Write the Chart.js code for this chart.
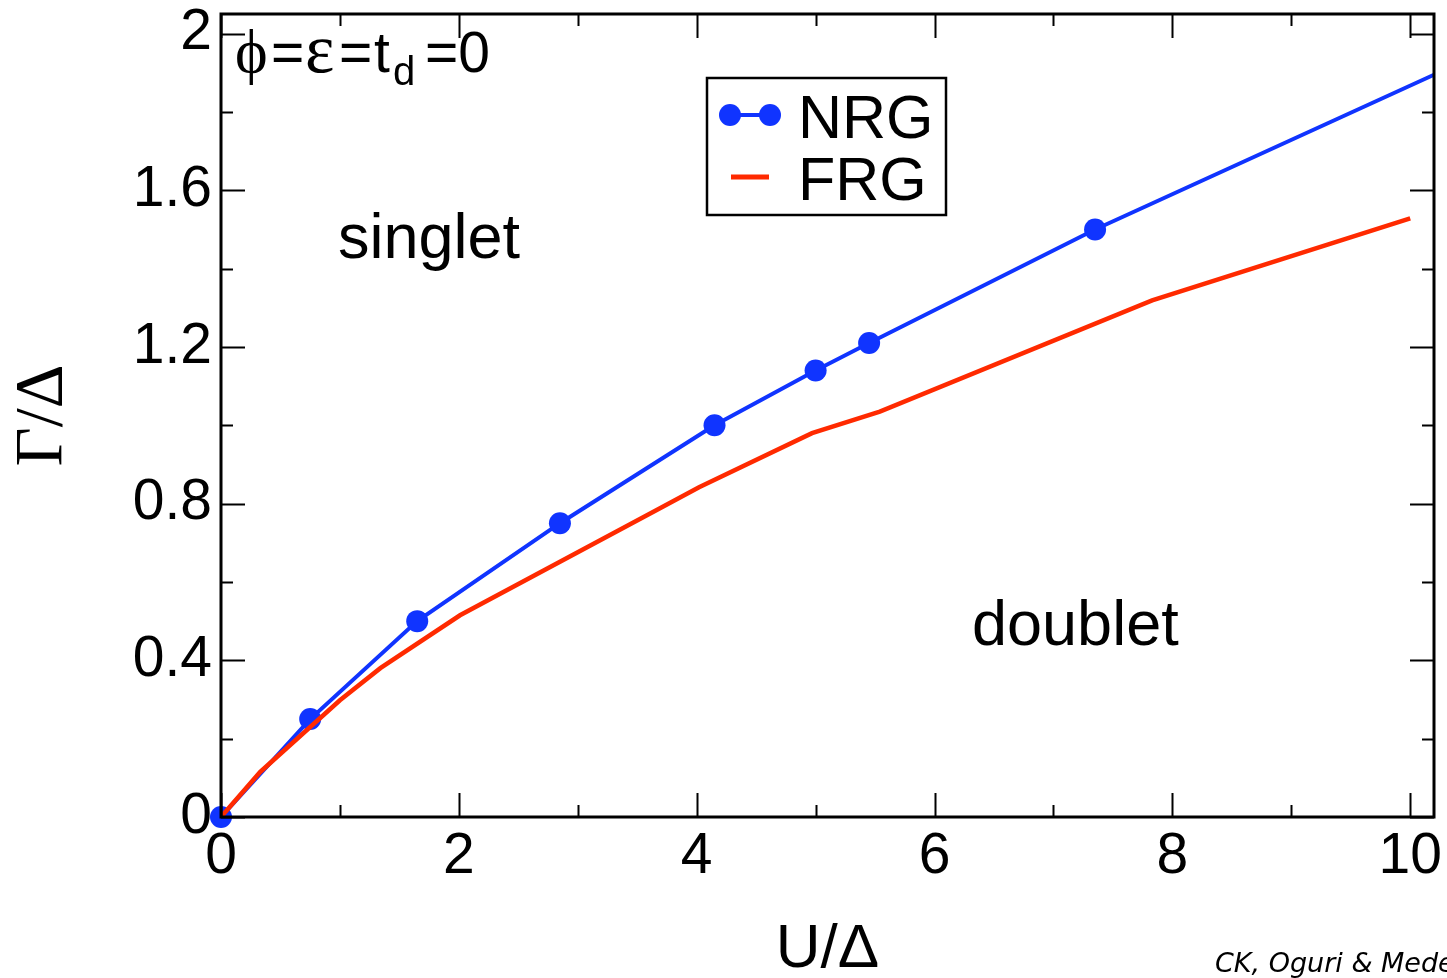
<!DOCTYPE html>
<html><head><meta charset="utf-8">
<script src="https://cdn.jsdelivr.net/npm/chart.js@4"></script>
<style>html,body{margin:0;padding:0;background:#fff;overflow:hidden}canvas{display:block}</style>
</head><body><canvas id="c" width="1447" height="978"></canvas>
<script>
// ---- data ----
const nrgU      = [0, 0.75, 1.65, 2.85, 4.15, 5.0, 5.45, 7.35, 10.2];
const nrgGamma  = [0, 0.25, 0.50, 0.75, 1.00, 1.14, 1.21, 1.50, 1.895];
const nrgMarker = [1, 1, 1, 1, 1, 1, 1, 1, 0];
const frgU      = [0, 0.33, 1.00, 1.34, 2.01, 3.66, 4.02, 4.97, 5.54, 7.83, 10.0];
const frgGamma  = [0, 0.115, 0.298, 0.38, 0.515, 0.783, 0.842, 0.98, 1.035, 1.319, 1.528];
const xMajorTicks = [0, 2, 4, 6, 8, 10];
const xMinorTicks = [1, 3, 5, 7, 9];
const yMajorTicks = [0, 0.4, 0.8, 1.2, 1.6, 2.0];
const yMinorTicks = [0.2, 0.6, 1.0, 1.4, 1.8];
const xTickLabels = ['0', '2', '4', '6', '8', '10'];
const yTickLabels = ['0', '0.4', '0.8', '1.2', '1.6', '2'];
const seriesNames = ['NRG', 'FRG'];
const regionLabels = ['singlet', 'doublet'];

const BLUE = '#1034ff', RED = '#ff2a00';
const SANS = 'Liberation Sans';
const SERIF = 'Liberation Serif';

const decor = {
  id: 'decor',
  afterDraw(chart) {
    const {ctx, chartArea: a, scales: {x, y}} = chart;
    ctx.save();
    ctx.strokeStyle = '#000';
    // ticks (inside, mirrored)
    ctx.lineWidth = 2;
    const xt = (vals, len) => vals.forEach(v => {
      const p = Math.round(x.getPixelForValue(v)) + 0.5;
      ctx.beginPath();
      ctx.moveTo(p, a.bottom); ctx.lineTo(p, a.bottom - len);
      ctx.moveTo(p, a.top); ctx.lineTo(p, a.top + len);
      ctx.stroke();
    });
    const yt = (vals, len) => vals.forEach(v => {
      const p = Math.round(y.getPixelForValue(v)) + 0.5;
      ctx.beginPath();
      ctx.moveTo(a.left, p); ctx.lineTo(a.left + len, p);
      ctx.moveTo(a.right, p); ctx.lineTo(a.right - len, p);
      ctx.stroke();
    });
    xt(xMajorTicks, 24); xt(xMinorTicks, 12);
    yt(yMajorTicks, 24); yt(yMinorTicks, 12);
    // frame
    ctx.lineWidth = 3;
    ctx.strokeRect(a.left, a.top, a.right - a.left, a.bottom - a.top);

    // annotations
    ctx.fillStyle = '#000';
    ctx.textBaseline = 'alphabetic';
    ctx.textAlign = 'left';
    ctx.font = `63px "${SANS}"`;
    ctx.fillText(regionLabels[0], 338, 258);
    ctx.fillText(regionLabels[1], 972, 645);

    // parameter label  ϕ=ε=t_d=0
    const parts = [
      ['ϕ', `62px "${SERIF}", "DejaVu Serif"`, 235, 72],
      ['=', `57px "${SANS}"`, 271, 72],
      ['ε', `70px "${SERIF}"`, 305, 72],
      ['=', `57px "${SANS}"`, 339, 72],
      ['t', `57px "${SANS}"`, 374, 72],
      ['d', `40px "${SANS}"`, 393, 85],
      ['=0', `57px "${SANS}"`, 425, 72]
    ];
    parts.forEach(([t, f, px, py]) => { ctx.font = f; ctx.fillText(t, px, py); });

    // legend
    const ds = chart.data.datasets;
    ctx.lineWidth = 2.5;
    ctx.strokeStyle = '#000';
    ctx.strokeRect(707, 78, 239, 137);
    ctx.strokeStyle = ds[0].borderColor; ctx.lineWidth = 4;
    ctx.beginPath(); ctx.moveTo(730, 115); ctx.lineTo(770, 115); ctx.stroke();
    ctx.fillStyle = ds[0].borderColor;
    [730, 770].forEach(cx => { ctx.beginPath(); ctx.arc(cx, 115, 11, 0, Math.PI * 2); ctx.fill(); });
    ctx.strokeStyle = ds[1].borderColor; ctx.lineWidth = 5;
    ctx.beginPath(); ctx.moveTo(731, 177); ctx.lineTo(769, 177); ctx.stroke();
    ctx.fillStyle = '#000';
    ctx.font = `61px "${SANS}"`;
    ctx.fillText(ds[0].label, 798, 138);
    ctx.fillText(ds[1].label, 798, 200);

    // credit
    ctx.font = 'italic 27px "DejaVu Sans"';
    ctx.fillText('CK, Oguri & Meden', 1215, 972);
    ctx.restore();
  }
};

new Chart(document.getElementById('c'), {
  type: 'scatter',
  data: {
    datasets: [
      {
        label: seriesNames[0],
        data: nrgU.map((u, i) => ({x: u, y: nrgGamma[i]})),
        showLine: true, tension: 0, clip: false,
        borderColor: BLUE, backgroundColor: BLUE, borderWidth: 4,
        pointRadius: nrgMarker.map(m => m ? 11 : 0),
        pointBackgroundColor: BLUE, pointBorderWidth: 0,
        order: 1
      },
      {
        label: seriesNames[1],
        data: frgU.map((u, i) => ({x: u, y: frgGamma[i]})),
        showLine: true, tension: 0,
        borderColor: RED, backgroundColor: RED, borderWidth: 4.5,
        pointRadius: 0,
        order: 0
      }
    ]
  },
  options: {
    responsive: false,
    animation: false,
    events: [],
    layout: {padding: {top: 14, right: 13, left: 0, bottom: 0}},
    plugins: {legend: {display: false}, tooltip: {enabled: false}},
    scales: {
      x: {
        type: 'linear', min: 0, max: 10.2,
        grid: {display: false}, border: {display: false},
        afterBuildTicks: s => { s.ticks = xMajorTicks.map(v => ({value: v})); },
        ticks: {
          autoSkip: false, maxRotation: 0, padding: -2, color: '#000',
          font: {family: SANS, size: 57},
          callback: (v, i) => xTickLabels[i]
        },
        title: {
          display: true, text: 'U/Δ', color: '#000',
          font: {family: SANS, size: 62, lineHeight: 1},
          padding: {top: 0, bottom: -3}
        },
        afterFit: s => { s.height = 161; s.paddingLeft = 0; s.paddingRight = 0; }
      },
      y: {
        type: 'linear', min: 0, max: 2.05,
        grid: {display: false}, border: {display: false},
        afterBuildTicks: s => { s.ticks = yMajorTicks.map(v => ({value: v})); },
        ticks: {
          autoSkip: false, padding: 1, color: '#000',
          font: {family: SANS, size: 57},
          callback: (v, i) => yTickLabels[i]
        },
        title: {
          display: true, text: 'Γ/Δ', color: '#000',
          font: {family: SERIF, size: 68, lineHeight: 1},
          padding: {top: 9, bottom: 0}
        },
        afterFit: s => { s.width = 221; s.paddingTop = 0; s.paddingBottom = 0; }
      }
    }
  },
  plugins: [decor]
});
</script>
</body></html>
